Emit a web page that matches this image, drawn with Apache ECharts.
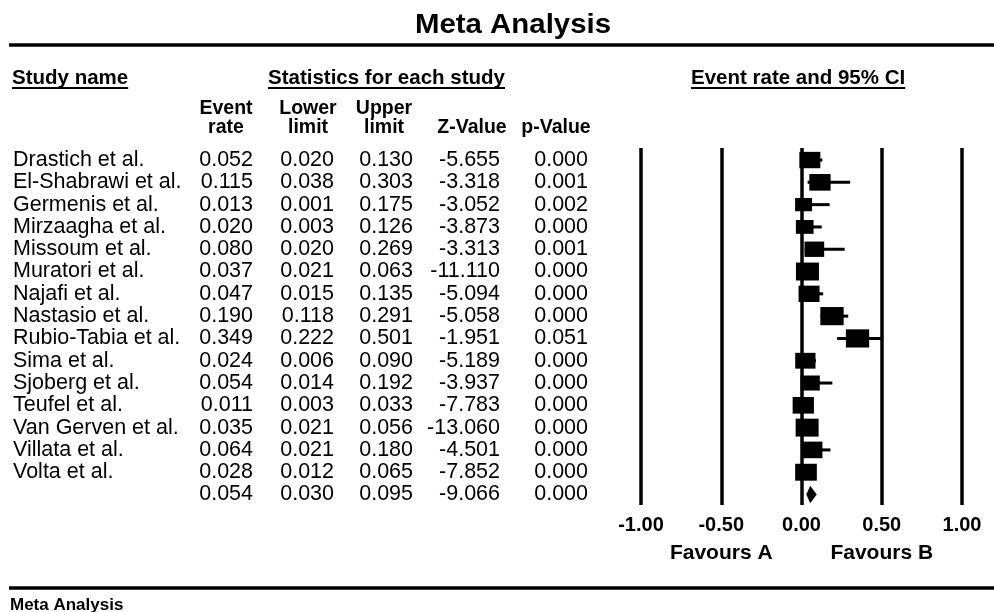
<!DOCTYPE html>
<html>
<head>
<meta charset="utf-8">
<title>Meta Analysis</title>
<script src="https://cdn.jsdelivr.net/npm/echarts@6/dist/echarts.min.js"></script>
<style>
  html, body { margin: 0; padding: 0; background: #fff; }
  #chart { width: 994px; height: 612px; }
</style>
</head>
<body>
<div id="chart"></div>
<script>
// Study-level results
const studyNames = [
  'Drastich et al.', 'El-Shabrawi et al.', 'Germenis et al.', 'Mirzaagha et al.',
  'Missoum et al.', 'Muratori et al.', 'Najafi et al.', 'Nastasio et al.',
  'Rubio-Tabia et al.', 'Sima et al.', 'Sjoberg et al.', 'Teufel et al.',
  'Van Gerven et al.', 'Villata et al.', 'Volta et al.'
];
const eventRate  = [0.052, 0.115, 0.013, 0.020, 0.080, 0.037, 0.047, 0.190, 0.349, 0.024, 0.054, 0.011, 0.035, 0.064, 0.028];
const lowerLimit = [0.020, 0.038, 0.001, 0.003, 0.020, 0.021, 0.015, 0.118, 0.222, 0.006, 0.014, 0.003, 0.021, 0.021, 0.012];
const upperLimit = [0.130, 0.303, 0.175, 0.126, 0.269, 0.063, 0.135, 0.291, 0.501, 0.090, 0.192, 0.033, 0.056, 0.180, 0.065];
const zValue     = [-5.655, -3.318, -3.052, -3.873, -3.313, -11.110, -5.094, -5.058, -1.951, -5.189, -3.937, -7.783, -13.060, -4.501, -7.852];
const pValue     = [0.000, 0.001, 0.002, 0.000, 0.001, 0.000, 0.000, 0.000, 0.051, 0.000, 0.000, 0.000, 0.000, 0.000, 0.000];
// Relative study weights (%), used for the marker size
const studyWeight = [6.65, 6.84, 4.36, 4.72, 5.85, 7.98, 6.65, 8.19, 8.19, 6.21, 5.61, 6.84, 7.98, 6.84, 7.10];

// Pooled estimate: event rate, lower, upper, Z, p
const pooledStats = [0.054, 0.030, 0.095, -9.066, 0.000];

// Axis of the forest plot
const axisMin = -1;
const axisMax = 1;
const axisStep = 0.5;

const sideLabels = ['Favours A', 'Favours B'];
const sideLabelAt = [-0.5, 0.5];

const FONT = '"Liberation Sans", Arial, Helvetica, sans-serif';
const nRows = studyNames.length + 1;

const chart = echarts.init(document.getElementById('chart'), null, { renderer: 'canvas' });

const studyData = studyNames.map((n, i) => [i, eventRate[i], lowerLimit[i], upperLimit[i], studyWeight[i]]);
const pooledData = [[studyNames.length, pooledStats[0], pooledStats[1], pooledStats[2]]];

// Square marker sized by weight, drawn over its confidence interval
function renderStudy(params, api) {
  const row = api.value(0);
  const c = api.coord([api.value(1), row]);
  const lo = api.coord([api.value(2), row]);
  const hi = api.coord([api.value(3), row]);
  const bw = 8.14 * Math.sqrt(api.value(4));
  const bh = bw * 0.78;
  return {
    type: 'group',
    children: [
      { type: 'line', shape: { x1: lo[0], y1: lo[1], x2: hi[0], y2: hi[1] }, style: { stroke: '#000', lineWidth: 3 } },
      { type: 'rect', shape: { x: c[0] - bw / 2, y: c[1] - bh / 2, width: bw, height: bh }, style: { fill: '#000' } }
    ]
  };
}

// Diamond spanning the pooled confidence interval
function renderPooled(params, api) {
  const row = api.value(0);
  const c = api.coord([api.value(1), row]);
  const lo = api.coord([api.value(2), row]);
  const hi = api.coord([api.value(3), row]);
  const h = 8.8;
  return {
    type: 'polygon',
    shape: { points: [[lo[0], c[1]], [c[0], c[1] - h], [hi[0], c[1]], [c[0], c[1] + h]] },
    style: { fill: '#000' }
  };
}

chart.setOption({
  animation: false,
  backgroundColor: '#fff',
  grid: { left: 641, right: 32, top: 148, bottom: 107, containLabel: false },
  xAxis: {
    type: 'value',
    min: axisMin, max: axisMax, interval: axisStep,
    axisLine: { show: false },
    axisTick: { show: false },
    splitLine: { show: true, showMinLine: true, showMaxLine: true, lineStyle: { color: '#000', width: 3.5 } },
    axisLabel: {
      margin: 10,
      fontFamily: FONT, fontWeight: 'bold', fontSize: 20, color: '#000',
      formatter: v => v.toFixed(2)
    }
  },
  yAxis: {
    type: 'value', inverse: true, min: -0.54, max: nRows - 1 + 0.47,
    show: false, splitLine: { show: false }
  },
  series: [
    { type: 'custom', renderItem: renderStudy, data: studyData, encode: { x: [1, 2, 3], y: 0 }, z: 3 },
    { type: 'custom', renderItem: renderPooled, data: pooledData, encode: { x: [1, 2, 3], y: 0 }, z: 3 }
  ]
});

// Table and annotations, positioned on the plot's row scale
function rowY(i) { return chart.convertToPixel({ yAxisIndex: 0 }, i); }
function axisX(v) { return chart.convertToPixel({ xAxisIndex: 0 }, v); }

function txt(text, x, y, opts) {
  return {
    type: 'text', x: x, y: y, silent: true,
    scaleX: opts.scaleX || 1,
    style: {
      text: text, fill: '#000', fontFamily: FONT,
      fontSize: opts.size || 21.5, fontWeight: opts.bold ? 'bold' : 'normal',
      align: opts.align || 'left', verticalAlign: 'middle'
    }
  };
}
function hline(x1, x2, y, w) {
  return { type: 'line', silent: true, shape: { x1: x1, y1: y, x2: x2, y2: y }, style: { stroke: '#000', lineWidth: w } };
}

const colRight = [253, 334, 413, 500, 588];
const headCenter = [226, 308, 384, 472, 556];
const g = [];

// Title and rules
g.push(txt('Meta Analysis', 513, 25, { size: 28, bold: true, align: 'center', scaleX: 1.05 }));
g.push(hline(9, 994, 45, 3.5));
g.push(hline(9, 994, 588, 3.5));
g.push(txt('Meta Analysis', 10, 605, { size: 17, bold: true }));

// Section headers with underlines
const sections = [
  { text: 'Study name', x: 12 },
  { text: 'Statistics for each study', x: 268 },
  { text: 'Event rate and 95% CI', x: 691 }
];
const sectionSize = 20.5;
sections.forEach(s => {
  g.push(txt(s.text, s.x, 78, { size: sectionSize, bold: true }));
  const w = echarts.format.getTextRect
    ? echarts.format.getTextRect(s.text, 'bold ' + sectionSize + 'px ' + FONT).width
    : s.text.length * 10;
  g.push(hline(s.x, s.x + w, 88, 2));
});

// Column headers
const headTop = ['Event', 'Lower', 'Upper', '', ''];
const headBottom = ['rate', 'limit', 'limit', 'Z-Value', 'p-Value'];
headTop.forEach((t, k) => { if (t) g.push(txt(t, headCenter[k], 109, { size: 19.5, bold: true, align: 'center' })); });
headBottom.forEach((t, k) => g.push(txt(t, headCenter[k], 128, { size: 19.5, bold: true, align: 'center' })));

// Study rows
studyNames.forEach((name, i) => {
  const y = rowY(i);
  g.push(txt(name, 13, y, {}));
  [eventRate[i], lowerLimit[i], upperLimit[i], zValue[i], pValue[i]].forEach((v, k) => {
    g.push(txt(v.toFixed(3), colRight[k], y, { align: 'right' }));
  });
});
// Pooled row
pooledStats.forEach((v, k) => {
  g.push(txt(v.toFixed(3), colRight[k], rowY(studyNames.length), { align: 'right' }));
});

// Side labels under the axis
sideLabels.forEach((t, k) => g.push(txt(t, axisX(sideLabelAt[k]), 553, { size: 21, bold: true, align: 'center' })));

chart.setOption({ graphic: { elements: g } });
</script>
</body>
</html>
